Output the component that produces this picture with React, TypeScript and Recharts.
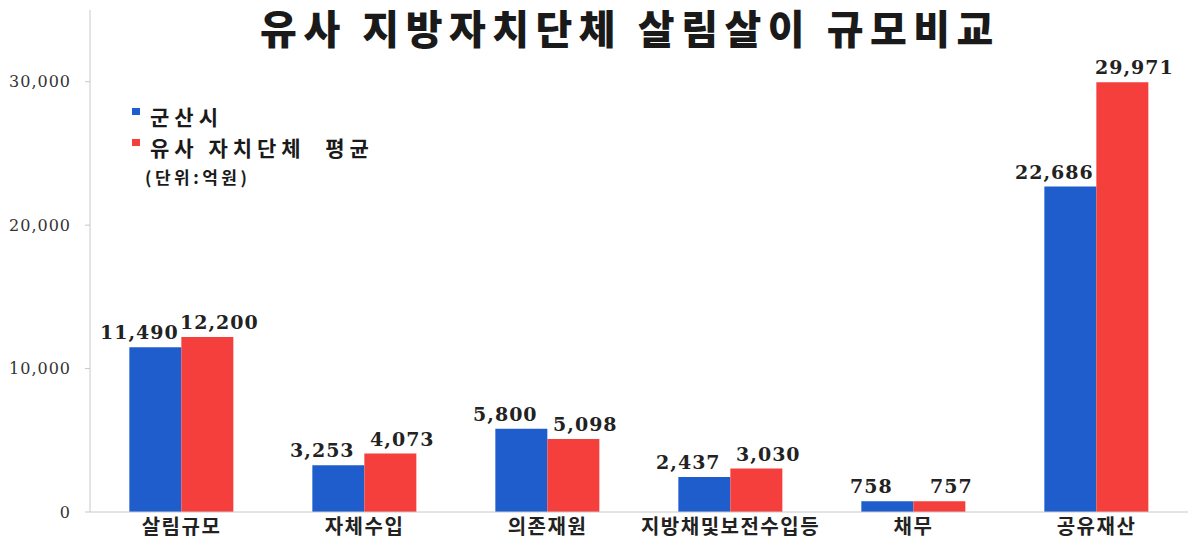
import React from 'react'
import { Bar, BarChart, LabelList, XAxis, YAxis } from 'recharts'

const categories = ['살림규모', '자체수입', '의존재원', '지방채및보전수입등', '채무', '공유재산']
const gunsan = [11490, 3253, 5800, 2437, 758, 22686]
const similarAvg = [12200, 4073, 5098, 3030, 757, 29971]
const yTicks = [0, 10000, 20000, 30000]
const seriesNames = ['군산시', '유사 자치단체  평균']

const BLUE = '#1f5ccc'
const RED = '#f43f3c'

const data = categories.map((name, i) => ({
    name,
    gunsan: gunsan[i],
    avg: similarAvg[i],
}))

const fmt = (v: number) => v.toLocaleString('en-US')

const makeLabel = (dx: number) => (props: any) => {
    const { x, y, width, value } = props
    return (
        <text
            x={x + width / 2 + dx}
            y={y - 8}
            textAnchor='middle'
            fontFamily='DejaVu Serif'
            fontWeight='bold'
            fontSize={19}
            letterSpacing={1}
            fill='#222'
        >
            {fmt(value)}
        </text>
    )
}

export default function App() {
    return (
        <div style={{ position: 'absolute', left: 0, top: 0, width: 1194, height: 545, background: '#fff' }}>
            <BarChart
                width={1194}
                height={545}
                data={data}
                margin={{ top: 10, right: 6, left: 0, bottom: 0 }}
                barCategoryGap='21.5%'
                barGap={0}
            >
                <XAxis
                    dataKey='name'
                    height={33}
                    stroke='#c8c8c8'
                    tickLine={false}
                    tickSize={6}
                    tickMargin={2}
                    tick={{ fill: '#222', fontSize: 20, fontWeight: 700, fontFamily: 'Noto Sans CJK KR', letterSpacing: 1.5 }}
                />
                <YAxis
                    width={90}
                    domain={[0, 35000]}
                    ticks={yTicks}
                    stroke='#c8c8c8'
                    tickSize={5}
                    tickMargin={14}
                    tickFormatter={fmt}
                    tick={{ fill: '#333', fontSize: 16, fontFamily: 'DejaVu Serif', letterSpacing: 1 }}
                />
                <Bar dataKey='gunsan' name={seriesNames[0]} fill={BLUE} isAnimationActive={false}>
                    <LabelList dataKey='gunsan' content={makeLabel(-16)} />
                </Bar>
                <Bar dataKey='avg' name={seriesNames[1]} fill={RED} isAnimationActive={false}>
                    <LabelList dataKey='avg' content={makeLabel(12)} />
                </Bar>
            </BarChart>
            <div
                style={{
                    position: 'absolute', left: 0, width: 1260, top: 2, textAlign: 'center',
                    fontFamily: 'Noto Sans CJK KR', fontWeight: 900, fontSize: 40, letterSpacing: 6.5,
                    whiteSpace: 'pre', color: '#1a1a1a', lineHeight: '50px',
                }}
            >
                {'유사 지방자치단체 살림살이 규모비교'}
            </div>
            <div style={{ position: 'absolute', left: 132, top: 100, fontFamily: 'Noto Sans CJK KR', fontWeight: 700, color: '#1a1a1a', whiteSpace: 'pre' }}>
                {[BLUE, RED].map((c, i) => (
                    <div key={i} style={{ display: 'flex', alignItems: 'center', height: 31, fontSize: 21, letterSpacing: 5 }}>
                        <span style={{ display: 'inline-block', width: 8, height: 7, background: c, marginRight: 10, marginTop: -8 }} />
                        {seriesNames[i]}
                    </div>
                ))}
                <div style={{ fontSize: 17, letterSpacing: 3.5, marginLeft: 13, marginTop: 2 }}>(단위:억원)</div>
            </div>
        </div>
    )
}
